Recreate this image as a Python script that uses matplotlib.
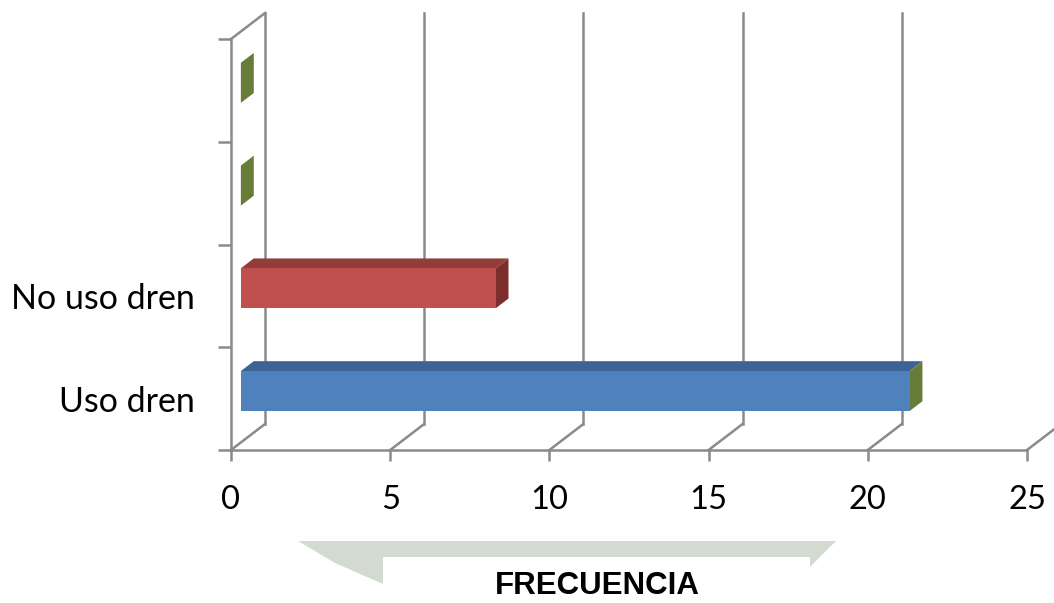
import matplotlib.pyplot as plt
from matplotlib.patches import Polygon, Rectangle

# data
categorias = ['Uso dren', 'No uso dren', '', '']
frecuencia = [21, 8, 0, 0]
ticks_x = [0, 5, 10, 15, 20, 25]

# colours per bar: front, top, end face
col_frente = ['#4F81BD', '#C0504D', '#4F81BD', '#4F81BD']
col_arriba = ['#3D6394', '#943C3A', '#3D6394', '#3D6394']
col_lado = ['#677C39', '#7B2E2C', '#677C39', '#677C39']

gris = '#8A8A8A'
lw = 1.8

W, H = 1054, 603
fig = plt.figure(figsize=(W / 100, H / 100), dpi=100)
ax = fig.add_axes([231 / W, 153 / H, 796 / W, 411 / H])
ax.set_xlim(0, 25)
ax.set_ylim(-0.5, 3.5)

# depth of the 3d box (in data units)
DX = 1.068
DY = 0.253

# left wall and back grid
ax.plot([0, DX], [3.5, 3.5 + DY], color=gris, lw=lw, clip_on=False, zorder=1)
for k in ticks_x:
    ax.plot([k + DX, k + DX], [-0.5 + DY, 3.5 + DY], color=gris, lw=lw,
            clip_on=False, zorder=1)
    ax.plot([k, k + DX], [-0.5, -0.5 + DY], color=gris, lw=lw,
            clip_on=False, zorder=1)

# bars
z0, z1 = 0.29, 0.67
h = 0.195
for i, v in enumerate(frecuencia):
    fx, fy = z0 * DX, z0 * DY
    bx, by = z1 * DX, z1 * DY
    y0, y1 = i - h, i + h
    arriba = [(fx, y1 + fy), (v + fx, y1 + fy), (v + bx, y1 + by), (bx, y1 + by)]
    lado = [(v + fx, y0 + fy), (v + bx, y0 + by), (v + bx, y1 + by), (v + fx, y1 + fy)]
    frente = [(fx, y0 + fy), (v + fx, y0 + fy), (v + fx, y1 + fy), (fx, y1 + fy)]
    ax.add_patch(Polygon(arriba, closed=True, fc=col_arriba[i], ec='none', zorder=3, clip_on=False))
    ax.add_patch(Polygon(lado, closed=True, fc=col_lado[i], ec='none', zorder=3, clip_on=False))
    if v > 0:
        ax.add_patch(Polygon(frente, closed=True, fc=col_frente[i], ec='none', zorder=4, clip_on=False))

# axes, ticks and labels
for s in ['top', 'right']:
    ax.spines[s].set_visible(False)
for s in ['left', 'bottom']:
    ax.spines[s].set_color(gris)
    ax.spines[s].set_linewidth(lw)

ax.set_xticks(ticks_x)
ax.set_xticklabels([str(t) for t in ticks_x], fontfamily='Lato', fontsize=23.5)
ax.tick_params(axis='x', length=8, width=lw, color=gris, pad=17)

ax.set_yticks([-0.5, 0.5, 1.5, 2.5, 3.5])
ax.set_yticklabels([])
ax.tick_params(axis='y', length=9.5, width=lw, color=gris)
ax.set_yticks(range(len(categorias)), minor=True)
ax.set_yticklabels(categorias, minor=True, fontfamily='Lato', fontsize=24.5)
ax.tick_params(axis='y', which='minor', length=0, pad=26)


def px(x, y):
    return (x / W, 1 - y / H)


# faded emblem band behind the axis title
banda = [px(298, 541), px(836, 541), px(810, 567), px(383, 584), px(335, 563)]
fig.patches.append(Polygon(banda, closed=True, transform=fig.transFigure,
                           fc='#D3DACF', ec='none', zorder=0))
fig.patches.append(Rectangle(px(383, 603), 427 / W, 46 / H,
                             transform=fig.transFigure, fc='white', ec='none', zorder=1))

fig.text(597 / W, 1 - 586 / H, 'FRECUENCIA', ha='center', va='center',
         fontfamily='Liberation Sans', fontweight='bold', fontsize=22.5)

fig.savefig('out.png', dpi=100)
